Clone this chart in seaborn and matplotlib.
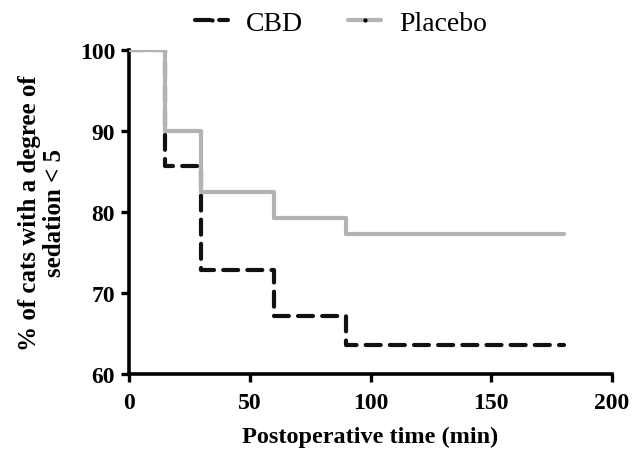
import matplotlib
matplotlib.use("Agg")
import matplotlib.pyplot as plt
from matplotlib.lines import Line2D
from matplotlib.legend_handler import HandlerTuple
import seaborn as sns
import pandas as pd

times = [0, 15, 30, 60, 90, 180]
cbd = [100, 85.7, 72.9, 67.1, 63.6, 63.6]
placebo = [100, 90.0, 82.5, 79.2, 77.3, 77.3]
groups = ["CBD", "Placebo"]

df = pd.DataFrame({
    "time": times * 2,
    "pct": cbd + placebo,
    "group": [groups[0]] * len(times) + [groups[1]] * len(times),
})

sns.set_theme(style="ticks")
plt.rcParams["font.family"] = ["Liberation Serif", "DejaVu Serif"]
plt.rcParams["text.color"] = "black"
plt.rcParams["axes.labelcolor"] = "black"
plt.rcParams["xtick.color"] = "black"
plt.rcParams["ytick.color"] = "black"

fig = plt.figure(figsize=(6.32, 4.52), dpi=100)
ax = fig.add_axes([129 / 632, 1 - 375 / 452, 483 / 632, 324 / 452])

palette = {"CBD": "#111111", "Placebo": "#b3b3b3"}
sns.lineplot(data=df[df.group == "CBD"], x="time", y="pct", color=palette["CBD"],
             drawstyle="steps-post", lw=3.0, ax=ax, label="CBD", zorder=2)
sns.lineplot(data=df[df.group == "Placebo"], x="time", y="pct", color=palette["Placebo"],
             drawstyle="steps-post", lw=3.0, ax=ax, label="Placebo", zorder=3)
lines = ax.get_lines()
lines[0].set_dashes([3.6, 2.2])
lines[0].set_dash_capstyle("round")

ax.set_xlim(0, 200)
ax.set_ylim(60, 100)
ax.set_xticks([0, 50, 100, 150, 200])
ax.set_yticks([60, 70, 80, 90, 100])
for s in ["top", "right"]:
    ax.spines[s].set_visible(False)
for s in ["left", "bottom"]:
    ax.spines[s].set_linewidth(2.6)
    ax.spines[s].set_color("black")
ax.tick_params(axis="both", width=2.4, length=6, color="black", labelcolor="black", labelsize=17)
ax.tick_params(axis="x", pad=7)
ax.tick_params(axis="y", pad=4)
for lab in ax.get_xticklabels() + ax.get_yticklabels():
    lab.set_fontweight("bold")
ax.set_xlabel("Postoperative time (min)", fontsize=17.5, fontweight="bold", labelpad=9)
ax.set_ylabel("% of cats with a degree of\nsedation < 5", fontsize=18, fontweight="bold",
              labelpad=10, linespacing=1.1)

h, l = ax.get_legend_handles_labels()
dot = Line2D([], [], marker="o", ms=2, color="black", ls="none")
handles = [(h[l.index("CBD")], dot), (h[l.index("Placebo")], dot)]
ax.legend(handles, ["CBD", "Placebo"], loc="upper center",
          handler_map={tuple: HandlerTuple(ndivide=1)},
          bbox_to_anchor=(0.439, 1.2), ncol=2, frameon=False, fontsize=20,
          handlelength=1.2, columnspacing=1.6, handletextpad=0.65)

fig.savefig("out.png", dpi=100)
